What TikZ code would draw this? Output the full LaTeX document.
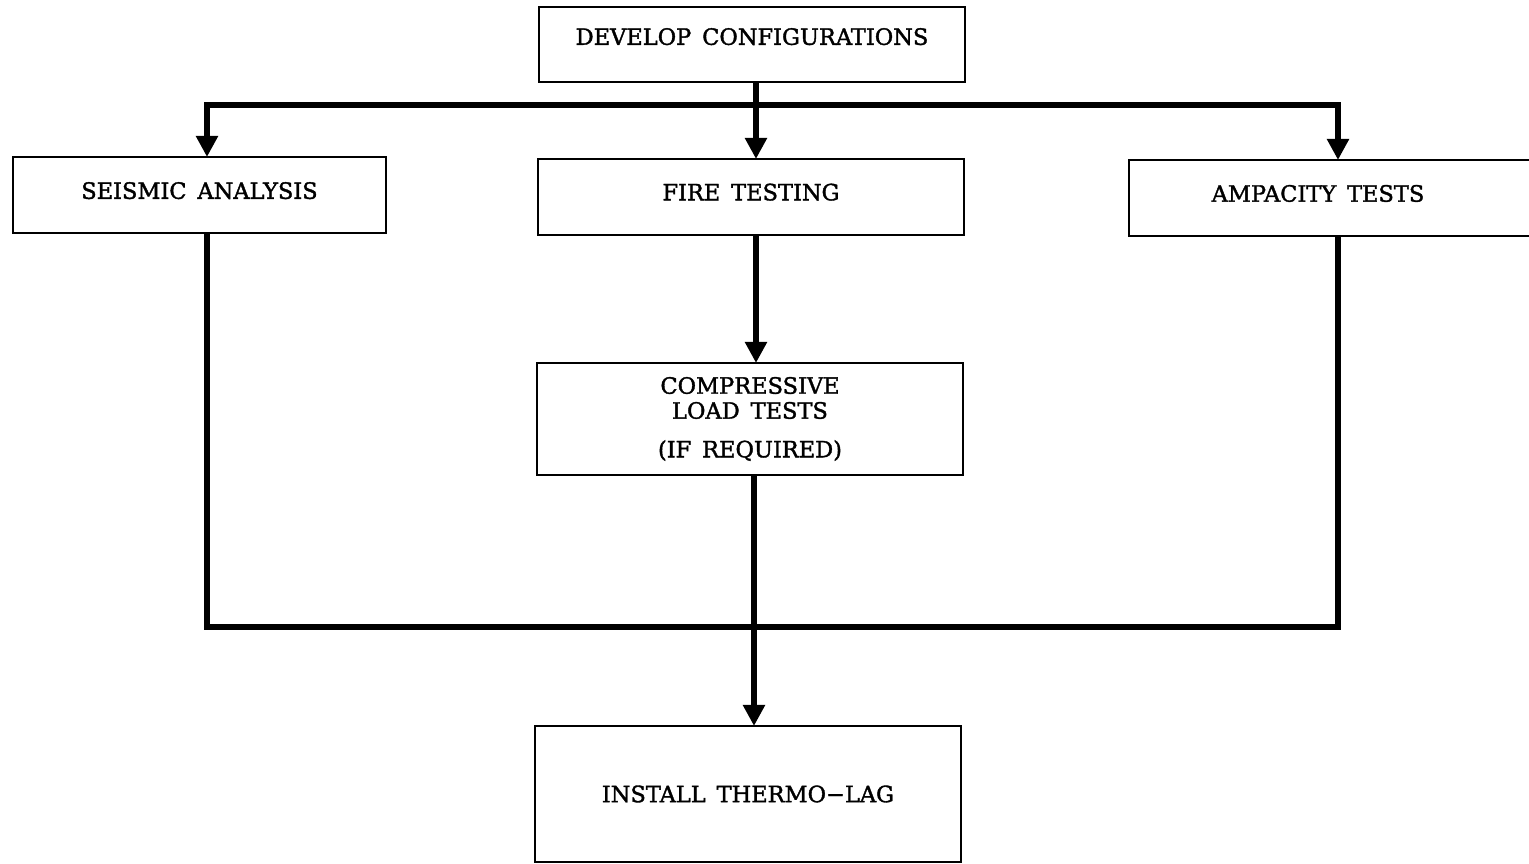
\documentclass[tikz,border=0pt]{standalone}
\usepackage{fontspec}
\newfontfamily\boxfont{DejaVu Serif}[FakeBold=1.6]
\usetikzlibrary{arrows.meta}

\begin{document}
\begin{tikzpicture}[
	box/.style={draw,line width=0.6pt,inner sep=0,outer sep=0,minimum width=4.26cm,font=\boxfont\fontsize{6.4}{7.1}\selectfont},
	flow/.style={line width=1.7pt},
	flowarrow/.style={flow,-{Triangle[width=0.21cm,length=0.21cm]}}
]
	\useasboundingbox (0,0) rectangle (15.29,8.64);
	\node[box,minimum height=0.75cm,text depth=0.16cm] (develop) at (7.52,8.195) {DEVELOP\ \,CONFIGURATIONS};
	\node[box,minimum width=3.73cm,minimum height=0.76cm,text depth=0.09cm] (seismic) at (1.995,6.69) {SEISMIC\ \,ANALYSIS};
	\node[box,minimum height=0.76cm,text depth=0.1cm] (fire) at (7.51,6.67) {FIRE\ \,TESTING};
	\node[box,minimum width=4.18cm,minimum height=0.76cm] (ampacity) at (13.38,6.66) {};
	\node[font=\boxfont\fontsize{6.4}{7.1}\selectfont,inner sep=0] (ampacitytext) at (13.18,6.705) {AMPACITY\ \,TESTS};
	\node[box,minimum height=1.12cm,align=center] (compressive) at (7.50,4.45) {COMPRESSIVE\\LOAD\ \,TESTS\\[3.9pt](IF\ \,REQUIRED)};
	\node[box,minimum height=1.36cm] (install) at (7.48,0.70) {INSTALL\ \,THERMO−LAG};
	\coordinate (split) at (7.56,7.59);
	\coordinate (merge) at (7.54,2.37);
	\draw[flow] (develop.south -| split) -- (split);
	\draw[flowarrow] (split) -| (seismic.north -| 2.07,0);
	\draw[flowarrow] (split) -| (ampacity.north);
	\draw[flowarrow] (split) -- (fire.north -| split);
	\draw[flowarrow] (fire.south -| split) -- (compressive.north -| split);
	\draw[flow] (seismic.south -| 2.07,0) |- (merge) -| (ampacity.south);
	\draw[flowarrow] (compressive.south -| merge) -- (install.north -| merge);
\end{tikzpicture}
\end{document}
